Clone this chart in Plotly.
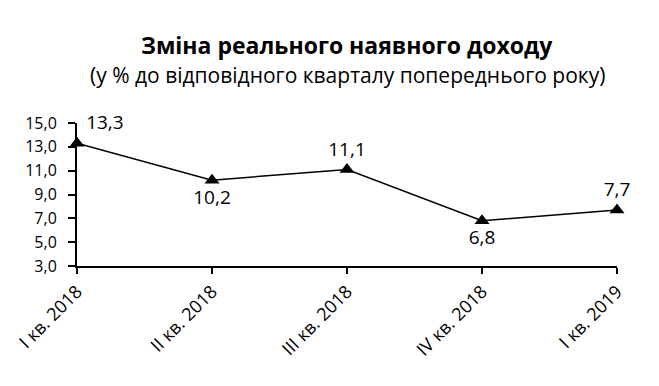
import plotly.graph_objects as go

categories = ["I кв. 2018", "II кв. 2018", "III кв. 2018", "IV кв. 2018", "I кв. 2019"]
values = [13.3, 10.2, 11.1, 6.8, 7.7]
label_positions = ["top right", "bottom center", "top center", "bottom center", "top center"]
y_ticks = [3, 5, 7, 9, 11, 13, 15]

font_family = "Open Sans, Liberation Sans, sans-serif"

fig = go.Figure()
fig.add_trace(go.Scatter(
    x=list(range(len(categories))),
    y=values,
    mode="lines+markers+text",
    line=dict(color="black", width=1.5),
    marker=dict(symbol="triangle-up", size=13, color="black"),
    text=[f"{v:.1f}".replace(".", ",") for v in values],
    textposition=label_positions,
    textfont=dict(size=19, color="black", family=font_family),
    cliponaxis=False,
    showlegend=False,
))

fig.update_layout(
    width=659, height=386,
    margin=dict(l=77, r=42, t=123, b=120),
    plot_bgcolor="white", paper_bgcolor="white",
    separators=", ",
    font=dict(family=font_family, color="black", size=16),
)

fig.add_annotation(text="<b>Зміна реального наявного доходу</b>", xref="paper", yref="paper",
                   x=0.5, y=1.0, yanchor="middle", yshift=78, showarrow=False,
                   font=dict(size=23, family=font_family))
fig.add_annotation(text="(у % до відповідного кварталу попереднього року)", xref="paper", yref="paper",
                   x=0.5, y=1.0, yanchor="middle", yshift=48, showarrow=False,
                   font=dict(size=21, family=font_family))

fig.update_xaxes(
    range=[0, len(categories) - 1], automargin=False,
    tickmode="array", tickvals=list(range(len(categories))), ticktext=categories,
    tickangle=-45, ticks="outside", ticklen=6, tickwidth=1.5, tickcolor="black",
    showline=True, linecolor="black", linewidth=2, showgrid=False, zeroline=False,
    tickfont=dict(size=18),
)
fig.update_yaxes(
    range=[3, 15], tickvals=y_ticks, tickformat=".1f", automargin=False,
    ticks="outside", ticklen=7, tickwidth=1.5, tickcolor="black", ticklabelstandoff=8,
    showline=True, linecolor="black", linewidth=2, showgrid=False, zeroline=False,
    tickfont=dict(size=16),
)

fig.write_html("out.html", config={"displayModeBar": False},
               post_script="document.body.style.margin='0';")
